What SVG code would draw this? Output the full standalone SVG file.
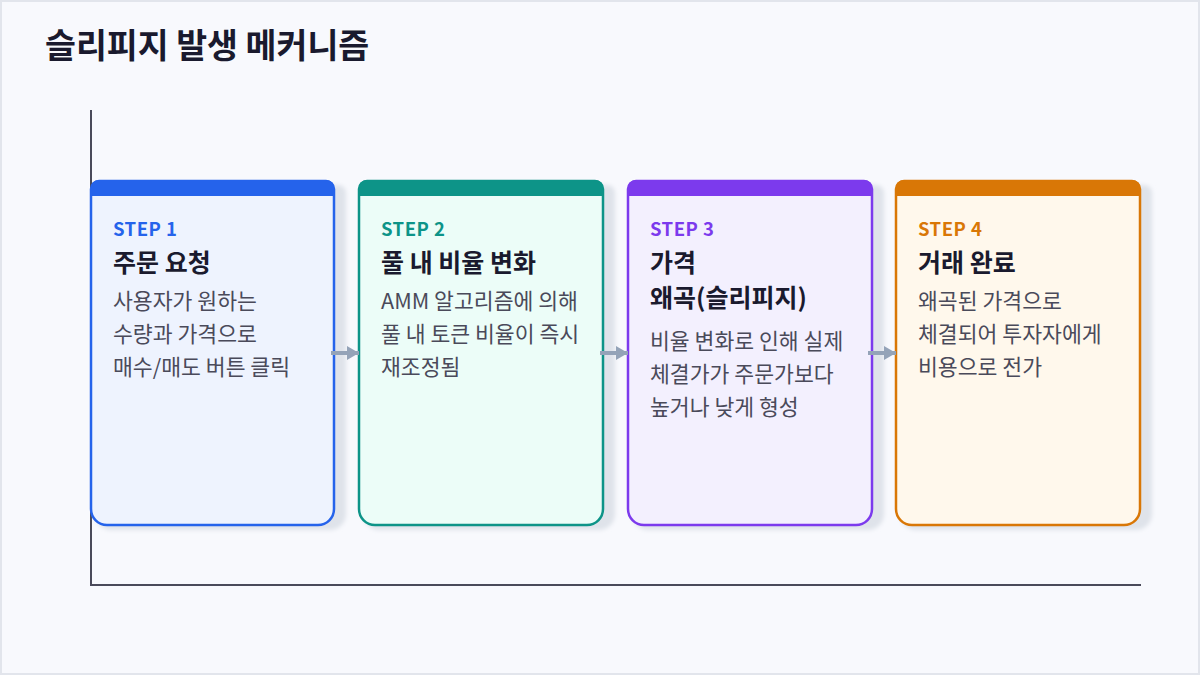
<svg xmlns="http://www.w3.org/2000/svg" width="1200" height="675" viewBox="0 0 1200 675">
<defs>
<marker id="ah" viewBox="0 0 12 14" refX="12" refY="7" markerWidth="12" markerHeight="14" markerUnits="userSpaceOnUse" orient="auto">
<path d="M0,0 L12,7 L0,14 z" fill="#94a3b8"/>
</marker>
<filter id="sh" x="-10%" y="-10%" width="130%" height="130%">
<feGaussianBlur stdDeviation="2"/>
</filter>
</defs>
<style>
text{font-family:"Noto Sans CJK KR","Noto Sans",sans-serif}
.title{font-size:33.6px;font-weight:700;fill:#1a1a2e}
.step{font-size:18.5px;font-weight:700;letter-spacing:0.5px}
.head{font-size:25px;font-weight:700;fill:#1a1a2e}
.body{font-size:21.6px;fill:#4a4a5a}
.shadow{fill:#dfe3ea}
.conn{stroke:#94a3b8;stroke-width:4;fill:none}
</style>
<rect x="1" y="1" width="1198" height="673" fill="#f8f9fd" stroke="#e2e5ec" stroke-width="2"/>
<text class="title" x="45" y="58">슬리피지 발생 메커니즘</text>
<g id="axis" stroke="#4a4a5a" stroke-width="2" fill="none">
<path d="M91,110 V585 H1141"/>
</g>
<g id="step1">
<path class="shadow" d="M103,185 H338 a8,8 0 0 1 8,8 V514 a16,16 0 0 1 -16,16 H111 a16,16 0 0 1 -16,-16 V193 z" filter="url(#sh)"/>
<path d="M99,181 H326 a8,8 0 0 1 8,8 V509 a16,16 0 0 1 -16,16 H107 a16,16 0 0 1 -16,-16 V189 a8,8 0 0 1 8,-8 z" fill="#eef3fe" stroke="#2563eb" stroke-width="2.5"/>
<path d="M99,180 H326 a8,8 0 0 1 8,8 V196 H91 V188 a8,8 0 0 1 8,-8 z" fill="#2563eb"/>
<text class="step" x="113" y="236" fill="#2563eb">STEP 1</text>
<text class="head" x="113" y="272">주문 요청</text>
<text class="body" x="113" y="309">사용자가 원하는</text>
<text class="body" x="113" y="342">수량과 가격으로</text>
<text class="body" x="113" y="375">매수/매도 버튼 클릭</text>
</g>
<g id="step2">
<path class="shadow" d="M371,185 H607 a8,8 0 0 1 8,8 V514 a16,16 0 0 1 -16,16 H379 a16,16 0 0 1 -16,-16 V193 z" filter="url(#sh)"/>
<path d="M367,181 H595 a8,8 0 0 1 8,8 V509 a16,16 0 0 1 -16,16 H375 a16,16 0 0 1 -16,-16 V189 a8,8 0 0 1 8,-8 z" fill="#ecfdf8" stroke="#0d9488" stroke-width="2.5"/>
<path d="M367,180 H595 a8,8 0 0 1 8,8 V196 H359 V188 a8,8 0 0 1 8,-8 z" fill="#0d9488"/>
<text class="step" x="381" y="236" fill="#0d9488">STEP 2</text>
<text class="head" x="381" y="272">풀 내 비율 변화</text>
<text class="body" x="381" y="309">AMM 알고리즘에 의해</text>
<text class="body" x="381" y="342">풀 내 토큰 비율이 즉시</text>
<text class="body" x="381" y="375">재조정됨</text>
</g>
<g id="step3">
<path class="shadow" d="M640,185 H876 a8,8 0 0 1 8,8 V514 a16,16 0 0 1 -16,16 H648 a16,16 0 0 1 -16,-16 V193 z" filter="url(#sh)"/>
<path d="M636,181 H864 a8,8 0 0 1 8,8 V509 a16,16 0 0 1 -16,16 H644 a16,16 0 0 1 -16,-16 V189 a8,8 0 0 1 8,-8 z" fill="#f3f0fe" stroke="#7c3aed" stroke-width="2.5"/>
<path d="M636,180 H864 a8,8 0 0 1 8,8 V196 H628 V188 a8,8 0 0 1 8,-8 z" fill="#7c3aed"/>
<text class="step" x="650" y="236" fill="#7c3aed">STEP 3</text>
<text class="head" x="650" y="272">가격</text>
<text class="head" x="650" y="307">왜곡(슬리피지)</text>
<text class="body" x="650" y="349">비율 변화로 인해 실제</text>
<text class="body" x="650" y="382">체결가가 주문가보다</text>
<text class="body" x="650" y="415">높거나 낮게 형성</text>
</g>
<g id="step4">
<path class="shadow" d="M908,185 H1144 a8,8 0 0 1 8,8 V514 a16,16 0 0 1 -16,16 H916 a16,16 0 0 1 -16,-16 V193 z" filter="url(#sh)"/>
<path d="M904,181 H1132 a8,8 0 0 1 8,8 V509 a16,16 0 0 1 -16,16 H912 a16,16 0 0 1 -16,-16 V189 a8,8 0 0 1 8,-8 z" fill="#fff8ec" stroke="#d97706" stroke-width="2.5"/>
<path d="M904,180 H1132 a8,8 0 0 1 8,8 V196 H896 V188 a8,8 0 0 1 8,-8 z" fill="#d97706"/>
<text class="step" x="918" y="236" fill="#d97706">STEP 4</text>
<text class="head" x="918" y="272">거래 완료</text>
<text class="body" x="918" y="309">왜곡된 가격으로</text>
<text class="body" x="918" y="342">체결되어 투자자에게</text>
<text class="body" x="918" y="375">비용으로 전가</text>
</g>
<g id="connectors">
<path class="conn" d="M331,353 H359" marker-end="url(#ah)"/>
<path class="conn" d="M600,353 H628" marker-end="url(#ah)"/>
<path class="conn" d="M868,353 H896" marker-end="url(#ah)"/>
</g>
</svg>
